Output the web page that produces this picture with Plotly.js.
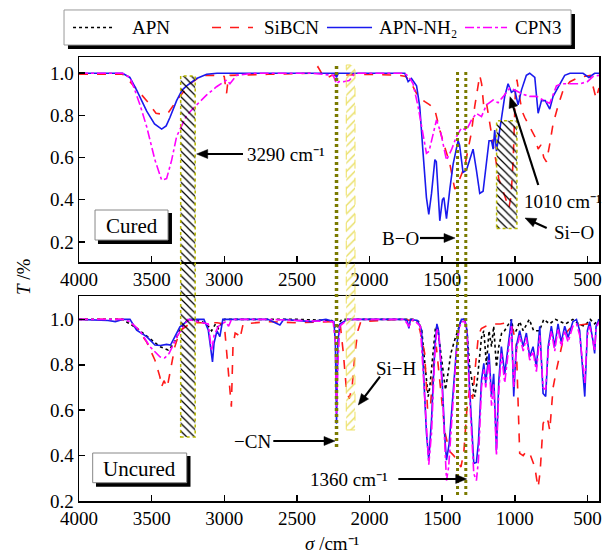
<!DOCTYPE html>
<html>
<head>
<meta charset="utf-8">
<script src="https://cdn.plot.ly/plotly-3.0.1.min.js"></script>
<style>html,body{margin:0;padding:0;background:#fff}#chart{width:610px;height:558px}</style>
</head>
<body>
<div id="chart"></div>
<script>
// ---------- DATA (wavenumber cm^-1, transmittance) ----------
// Cured panel
const curedRedX = [4000,3700,3649,3600,3534,3470,3420,3388,3328,3236,3156,3050,3000,2990,2984,2975,2960,2700,2400,2355,2330,2296,2260,2227,2000,1800,1750,1711,1665,1619,1585,1550,1516,1482,1447,1413,1395,1367,1344,1321,1298,1276,1253,1241,1228,1213,1195,1170,1140,1110,1070,1040,1025,1010,995,985,970,950,931,900,862,839,820,800,782,760,736,700,667,620,560,480,460,440,420];
const curedRedT = [0.995,0.995,0.96,0.92,0.87,0.81,0.805,0.81,0.87,0.95,0.99,0.99,0.985,0.93,0.905,0.96,0.99,0.995,1.0,1.03,1.0,0.975,0.99,0.99,0.995,0.99,0.985,0.95,0.89,0.865,0.85,0.826,0.73,0.65,0.57,0.45,0.47,0.52,0.56,0.64,0.72,0.84,0.95,0.99,0.95,0.84,0.86,0.75,0.62,0.5,0.42,0.36,0.42,0.6,0.93,0.97,0.9,0.82,0.79,0.75,0.70,0.64,0.66,0.60,0.58,0.66,0.76,0.85,0.92,0.96,0.98,0.99,0.93,0.88,0.93];
const curedBlueX = [4000,3700,3650,3603,3534,3480,3431,3400,3374,3328,3290,3259,3190,3121,3050,2500,2240,2227,2215,1800,1757,1734,1711,1676,1654,1631,1608,1592,1573,1550,1540,1516,1498,1488,1470,1447,1424,1390,1380,1356,1333,1310,1287,1264,1241,1218,1195,1177,1160,1149,1138,1126,1110,1092,1069,1046,1023,1000,977,954,920,897,862,839,816,790,759,736,690,656,620,530,490,450,420];
const curedBlueT = [1.0,1.0,0.98,0.92,0.82,0.76,0.735,0.75,0.79,0.87,0.92,0.94,0.975,0.995,1.0,1.0,1.0,0.98,1.0,1.0,1.0,0.96,0.975,0.94,0.84,0.62,0.41,0.33,0.43,0.59,0.58,0.30,0.40,0.41,0.31,0.45,0.57,0.68,0.66,0.53,0.54,0.59,0.64,0.54,0.43,0.44,0.56,0.68,0.68,0.64,0.73,0.63,0.70,0.78,0.89,0.95,0.91,0.92,0.85,0.92,0.99,1.0,0.98,0.81,0.87,0.87,0.83,0.89,0.95,0.99,1.0,1.0,0.98,1.0,1.0];
const curedMagX = [4000,3700,3650,3626,3580,3534,3477,3431,3397,3362,3328,3259,3190,3121,3053,2984,2961,2940,2915,2800,2400,2250,2227,2210,2180,2140,2100,1800,1760,1730,1700,1665,1631,1608,1590,1562,1539,1510,1470,1436,1401,1367,1333,1298,1264,1229,1195,1149,1115,1080,1034,1000,942,897,850,805,759,713,680,620,552,500,460,420];
const curedMagT = [1.0,1.0,0.98,0.94,0.85,0.746,0.588,0.493,0.5,0.588,0.70,0.80,0.85,0.897,0.936,0.968,0.95,0.97,0.99,1.0,1.0,0.99,0.95,0.96,0.96,0.965,1.0,1.0,1.0,0.985,0.95,0.84,0.70,0.62,0.63,0.72,0.778,0.72,0.588,0.636,0.70,0.74,0.73,0.778,0.81,0.794,0.85,0.873,0.86,0.889,0.93,0.92,0.90,0.89,0.89,0.873,0.857,0.94,0.95,0.95,0.95,0.96,0.985,0.99];

// Uncured panel
const uncApnX = [4000,3700,3600,3500,3443,3386,3350,3300,3250,3150,3110,3087,3060,3040,3000,2500,2260,2240,2227,2215,2190,1800,1700,1660,1640,1619,1596,1585,1565,1545,1530,1505,1493,1477,1460,1440,1413,1390,1367,1344,1328,1310,1295,1276,1260,1229,1213,1195,1177,1160,1145,1126,1110,1090,1070,1023,1007,990,966,942,900,870,830,800,760,720,650,600,560,520,480,450,420];
const uncApnT = [1.0,1.0,0.96,0.91,0.88,0.865,0.89,0.96,1.0,0.99,0.97,0.95,0.98,0.96,1.0,1.0,0.995,0.98,0.945,0.98,1.0,1.0,1.0,0.99,0.95,0.806,0.66,0.70,0.82,0.97,0.96,0.82,0.78,0.69,0.76,0.85,0.91,0.96,1.0,1.0,0.94,0.79,0.733,0.66,0.72,0.92,0.95,0.80,0.95,0.88,0.97,0.79,0.88,0.94,0.95,1.0,0.94,0.95,0.99,0.95,1.0,0.95,0.95,1.0,0.98,1.0,0.98,1.0,0.98,0.97,1.0,0.98,1.0];
const uncRedX = [4000,3700,3650,3600,3534,3477,3443,3431,3415,3393,3370,3340,3305,3250,3200,3050,3000,2984,2961,2951,2940,2925,2900,2892,2870,2700,2500,2300,2250,2227,2200,2180,2160,2140,2120,2100,2080,2060,1800,1700,1654,1620,1600,1580,1560,1540,1510,1480,1450,1420,1400,1370,1350,1330,1310,1290,1270,1250,1230,1200,1150,1100,1050,1023,990,980,966,942,920,897,880,862,850,839,825,805,790,770,759,736,712,690,660,620,560,500,420];
const uncRedT = [1.0,1.0,0.99,0.96,0.9,0.82,0.747,0.703,0.73,0.70,0.777,0.88,0.95,0.975,0.985,0.985,0.98,0.865,0.689,0.615,0.88,0.94,0.93,0.915,0.98,0.99,0.985,0.99,0.99,0.97,0.97,0.85,0.70,0.65,0.70,0.85,0.95,0.99,1.0,0.995,0.955,0.85,0.6,0.62,0.8,0.88,0.7,0.5,0.42,0.4,0.38,0.35,0.42,0.6,0.7,0.65,0.8,0.93,0.96,0.97,0.98,0.98,0.985,0.975,0.9,0.66,0.41,0.40,0.42,0.41,0.38,0.35,0.3,0.26,0.33,0.54,0.57,0.55,0.51,0.70,0.78,0.85,0.93,0.96,0.975,0.98,0.985];
const uncBlueX = [4000,3800,3750,3700,3649,3603,3534,3477,3440,3397,3370,3339,3305,3240,3140,3110,3092,3081,3070,3050,3030,3010,2700,2617,2590,2400,2300,2245,2235,2227,2218,2204,2150,1760,1740,1729,1718,1670,1642,1624,1608,1592,1573,1550,1536,1525,1500,1482,1470,1452,1440,1420,1400,1383,1367,1344,1328,1314,1298,1282,1264,1250,1229,1213,1200,1177,1160,1145,1126,1110,1092,1069,1046,1023,1007,990,966,942,920,897,874,851,828,805,787,770,748,725,702,680,656,633,600,575,553,518,500,484,460,450,440,420];
const uncBlueT = [1.0,0.995,0.99,1.0,1.0,0.953,0.924,0.887,0.885,0.89,0.887,0.924,0.967,1.0,1.0,0.953,0.857,0.813,0.896,0.95,0.924,1.0,1.0,0.975,1.0,0.99,1.0,0.99,0.9,0.54,0.9,0.98,1.0,1.0,0.995,0.96,1.0,0.995,0.955,0.70,0.50,0.38,0.56,0.88,0.98,0.95,0.733,0.483,0.38,0.45,0.56,0.733,0.88,0.97,1.0,1.0,0.95,0.733,0.54,0.366,0.37,0.46,0.733,0.806,0.72,0.85,0.66,0.76,0.424,0.73,0.88,0.76,0.88,1.0,0.66,0.88,0.95,0.88,0.94,0.835,0.88,0.79,0.97,0.674,0.66,0.88,0.97,0.88,0.98,0.9,0.97,0.92,0.99,1.0,0.95,0.66,0.95,0.99,0.9,0.85,0.97,1.0];
const uncMagX = [4000,3700,3650,3580,3512,3443,3410,3380,3350,3320,3250,3110,3087,3070,3040,2990,2970,2950,2700,2250,2235,2227,2218,2205,2150,1760,1729,1700,1650,1624,1608,1592,1573,1550,1536,1520,1500,1482,1470,1455,1440,1420,1400,1383,1367,1344,1328,1314,1298,1282,1264,1250,1229,1213,1200,1177,1160,1145,1126,1110,1092,1069,1046,1023,1007,990,966,942,920,897,874,851,828,805,787,770,748,725,702,680,656,633,600,575,553,518,500,484,460,450,440,420];
const uncMagT = [1.0,1.0,0.99,0.95,0.88,0.835,0.83,0.85,0.89,0.93,1.0,0.98,0.86,0.93,0.97,0.99,0.97,1.0,1.0,0.99,0.9,0.586,0.8,0.97,1.0,1.0,0.97,1.0,0.97,0.7,0.5,0.36,0.5,0.85,0.96,0.92,0.7,0.45,0.29,0.35,0.5,0.7,0.87,0.96,0.99,0.99,0.94,0.7,0.5,0.32,0.29,0.38,0.7,0.78,0.7,0.82,0.62,0.72,0.40,0.68,0.85,0.72,0.85,0.97,0.7,0.86,0.93,0.86,0.92,0.82,0.86,0.77,0.93,0.70,0.69,0.86,0.95,0.86,0.96,0.88,0.95,0.9,0.97,0.98,0.93,0.72,0.93,0.97,0.9,0.86,0.96,0.99];

const seriesNames = ['APN','SiBCN','APN-NH\u2082','CPN3'];
const xTicks = [4000,3500,3000,2500,2000,1500,1000,500];
const yTicks = [0.2,0.4,0.6,0.8,1.0];

// ---------- STYLE ----------
const FONT = 'Liberation Serif, Times New Roman, serif';
const sty = {
  APN:  {color:'#000000', dash:'dot', width:1.6},
  RED:  {color:'#ff1a1a', dash:'dash', width:1.6},
  BLUE: {color:'#1a1aee', dash:'solid', width:1.6},
  MAG:  {color:'#ff00ff', dash:'dashdot', width:1.6}
};
function tr(x, y, s, xa, ya, name){
  return {type:'scatter', mode:'lines', x:x, y:y, xaxis:xa, yaxis:ya, name:name,
    line:{color:s.color, dash:s.dash, width:s.width}, showlegend:false, hoverinfo:'skip'};
}
const traces = [
  tr(curedRedX, curedRedT, sty.RED, 'x','y', seriesNames[1]),
  tr(curedBlueX, curedBlueT, sty.BLUE, 'x','y', seriesNames[2]),
  tr(curedMagX, curedMagT, sty.MAG, 'x','y', seriesNames[3]),
  tr(uncApnX, uncApnT, sty.APN, 'x2','y2', seriesNames[0]),
  tr(uncRedX, uncRedT, sty.RED, 'x2','y2', seriesNames[1]),
  tr(uncBlueX, uncBlueT, sty.BLUE, 'x2','y2', seriesNames[2]),
  tr(uncMagX, uncMagT, sty.MAG, 'x2','y2', seriesNames[3])
];

// hatched band regions (overlay subplot spanning both panels; y in fraction of plot area)
const bandCenter = [3250, 1055];
const bandWidth = [100, 140];
const bandBase = [0.1441, 0.614];
const bandHeight = [0.813, 0.2425];
traces.push({type:'bar', x:bandCenter, y:bandHeight, base:bandBase, width:bandWidth,
  xaxis:'x3', yaxis:'y3', showlegend:false, hoverinfo:'skip',
  marker:{color:'rgba(0,0,0,0)', line:{width:0},
    pattern:{shape:'\\', fgcolor:'#000000', bgcolor:'rgba(0,0,0,0)', size:5.5, solidity:0.22}}});
traces.push({type:'bar', x:[2130], y:[0.822], base:[0.16], width:[60],
  xaxis:'x3', yaxis:'y3', showlegend:false, hoverinfo:'skip',
  marker:{color:'rgba(0,0,0,0)', line:{width:0},
    pattern:{shape:'/', fgcolor:'#e6dc5a', bgcolor:'rgba(0,0,0,0)', size:6, solidity:0.22}}});

const axX = {range:[4000,420], tickvals:xTicks, ticks:'inside', ticklen:6, tickwidth:1.5, tickcolor:'#000',
  showline:true, mirror:true, linecolor:'#000', linewidth:1.5, showgrid:false, zeroline:false,
  tickfont:{family:FONT, size:19, color:'#000'}};
const axY = {tickvals:yTicks, tickformat:'.1f', ticks:'inside', ticklen:6, tickwidth:1.5, tickcolor:'#000',
  showline:true, mirror:true, linecolor:'#000', linewidth:1.5, showgrid:false, zeroline:false,
  tickfont:{family:FONT, size:19, color:'#000'}};

// pixel -> paper helpers for decorations
const PL = 79, PW = 520, PB = 501, PH = 444;
const px = v => (v - PL) / PW;
const py = v => (PB - v) / PH;
function arrowShapes(x0, y0, x1, y1){
  const dx = x1 - x0, dy = y1 - y0, L = Math.hypot(dx, dy), ux = dx / L, uy = dy / L;
  const hl = 11, hw = 4.5, bx = x1 - ux * hl, by = y1 - uy * hl, nx = -uy, ny = ux;
  return [
    {type:'line', xref:'paper', yref:'paper', x0:px(x0), y0:py(y0), x1:px(bx + ux), y1:py(by + uy), line:{color:'#000', width:2.2}},
    {type:'path', xref:'paper', yref:'paper', fillcolor:'#000', line:{color:'#000', width:0.5},
      path:'M ' + px(x1) + ' ' + py(y1) + ' L ' + px(bx + nx * hw) + ' ' + py(by + ny * hw) +
           ' L ' + px(bx - nx * hw) + ' ' + py(by - ny * hw) + ' Z'}
  ];
}

const OLIVE = '#7a7a00';
let shapes = [
  // band borders
  {type:'rect', xref:'x3', yref:'y3', x0:3300, x1:3200, y0:0.1441, y1:0.957, line:{color:'#b8b800', width:1.5, dash:'dot'}},
  {type:'rect', xref:'x3', yref:'y3', x0:1125, x1:985, y0:0.614, y1:0.8565, line:{color:'#b8b800', width:1.5, dash:'dot'}},
  {type:'rect', xref:'x3', yref:'y3', x0:2160, x1:2100, y0:0.16, y1:0.982, line:{color:'#eee060', width:1, dash:'dash'}},
  // thick dotted marker lines
  {type:'line', xref:'x3', yref:'y3', x0:2227, x1:2227, y0:0.1216, y1:0.982, line:{color:OLIVE, width:3.5, dash:'3px,3px'}},
  {type:'line', xref:'x3', yref:'y3', x0:1394, x1:1394, y0:0.0135, y1:0.97, line:{color:OLIVE, width:3, dash:'3px,3px'}},
  {type:'line', xref:'x3', yref:'y3', x0:1337, x1:1337, y0:0.0135, y1:0.97, line:{color:OLIVE, width:3, dash:'3px,3px'}},
  // panel label boxes
  {type:'rect', xref:'paper', yref:'paper', x0:0.0365, x1:0.1788, y0:0.5788, y1:0.6486, fillcolor:'#000', line:{width:0}},
  {type:'rect', xref:'paper', yref:'paper', x0:0.0308, x1:0.1712, y0:0.5878, y1:0.6554, fillcolor:'#fff', line:{color:'#888', width:1}},
  {type:'rect', xref:'paper', yref:'paper', x0:0.0327, x1:0.2144, y0:0.0322, y1:0.1014, fillcolor:'#000', line:{width:0}},
  {type:'rect', xref:'paper', yref:'paper', x0:0.0263, x1:0.2071, y0:0.0412, y1:0.1081, fillcolor:'#fff', line:{color:'#888', width:1}},
  // legend box with shadow
  {type:'rect', xref:'paper', yref:'paper', x0:-0.0212, x1:0.9538, y0:1.018, y1:1.0968, fillcolor:'#000', line:{width:0}},
  {type:'rect', xref:'paper', yref:'paper', x0:-0.0288, x1:0.9462, y0:1.027, y1:1.1059, fillcolor:'#fff', line:{color:'#999', width:1}},
  // legend samples
  {type:'line', xref:'paper', yref:'paper', x0:-0.0115, x1:0.0692, y0:1.0664, y1:1.0664, line:{color:sty.APN.color, dash:sty.APN.dash, width:1.6}},
  {type:'line', xref:'paper', yref:'paper', x0:0.2558, x1:0.3346, y0:1.0664, y1:1.0664, line:{color:sty.RED.color, dash:sty.RED.dash, width:1.6}},
  {type:'line', xref:'paper', yref:'paper', x0:0.4769, x1:0.5635, y0:1.0664, y1:1.0664, line:{color:sty.BLUE.color, dash:sty.BLUE.dash, width:1.6}},
  {type:'line', xref:'paper', yref:'paper', x0:0.7423, x1:0.8231, y0:1.0664, y1:1.0664, line:{color:sty.MAG.color, dash:sty.MAG.dash, width:1.6}}
];
shapes = shapes.concat(
  arrowShapes(243, 154, 196.7, 154),     // 3290 cm-1
  arrowShapes(538.3, 185, 510, 96.7),    // 1010 cm-1
  arrowShapes(546.7, 228, 525, 218),     // Si-O
  arrowShapes(420, 238, 455, 238),       // B-O
  arrowShapes(380, 376.7, 358.3, 405),   // Si-H
  arrowShapes(273.3, 441, 335, 441),     // -CN
  arrowShapes(398.3, 479, 466.7, 479)    // 1360 cm-1
);

function txt(t, x, y, xanchor, size){
  return {text:t, xref:'paper', yref:'paper', x:x, y:y, xanchor:xanchor||'center', yanchor:'middle',
    showarrow:false, font:{family:FONT, size:size||19, color:'#000'}};
}
const annotations = [
  txt(seriesNames[0], 0.0981, 1.0664, 'left'),
  txt(seriesNames[1], 0.3519, 1.0664, 'left'),
  txt(seriesNames[2], 0.5731, 1.0664, 'left'),
  txt(seriesNames[3], 0.8346, 1.0664, 'left'),
  txt('Cured', 0.101, 0.6194, 'center', 21),
  txt('Uncured', 0.1173, 0.0721, 'center', 21),
  txt('3290 cm\u207B\u00B9', px(245), py(154), 'left'),
  txt('1010 cm\u207B\u00B9', px(521.7), py(201.7), 'left'),
  txt('Si\u2212O', px(551.7), py(233), 'left'),
  txt('B\u2212O', px(400.8), py(238), 'center'),
  txt('Si\u2212H', px(396.5), py(368), 'center'),
  txt('\u2212CN', px(252.3), py(441.7), 'center'),
  txt('1360 cm\u207B\u00B9', px(349), py(479.3), 'center'),
  {text:'<i>T</i> /%', xref:'paper', yref:'paper', x:px(23), y:py(277), textangle:-90, showarrow:false,
    xanchor:'center', yanchor:'middle', font:{family:FONT, size:19, color:'#000'}},
  txt('<i>\u03C3</i> /cm\u207B\u00B9', px(332.5), py(543), 'center')
];

const layout = {
  width:610, height:558,
  margin:{l:79, r:11, t:57, b:57},
  paper_bgcolor:'#fff', plot_bgcolor:'rgba(0,0,0,0)',
  barmode:'overlay', showlegend:false,
  xaxis: Object.assign({}, axX, {domain:[0,1], anchor:'y'}),
  yaxis: Object.assign({}, axY, {domain:[0.538,1], range:[0.104,1.077], anchor:'x'}),
  xaxis2: Object.assign({}, axX, {domain:[0,1], anchor:'y2'}),
  yaxis2: Object.assign({}, axY, {domain:[0,0.4617], range:[0.2,1.103], anchor:'x2'}),
  xaxis3: {domain:[0,1], anchor:'y3', range:[4000,420], visible:false, fixedrange:true},
  yaxis3: {domain:[0,1], anchor:'x3', range:[0,1], visible:false, fixedrange:true},
  shapes:shapes, annotations:annotations,
  font:{family:FONT, color:'#000'}
};
Plotly.newPlot('chart', traces, layout, {displayModeBar:false, staticPlot:true});
</script>
</body>
</html>
